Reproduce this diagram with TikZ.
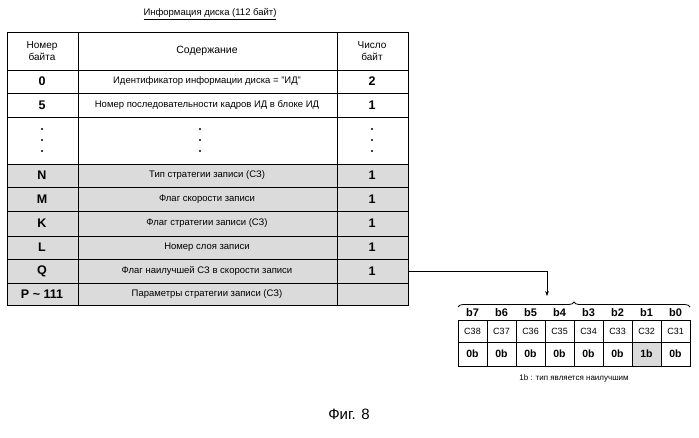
\documentclass[tikz,border=0pt]{standalone}
\usepackage{fontspec}
\setmainfont{Liberation Sans}
\usetikzlibrary{arrows.meta,decorations.pathreplacing}
\begin{document}
\begin{tikzpicture}[x=1pt,y=-1pt,
  txt/.style={font=\fontsize{9.5}{11}\selectfont,align=center},
  big/.style={font=\fontsize{12.5}{13}\selectfont\bfseries}]
\useasboundingbox (0,0) rectangle (699,437);
% shaded rows
\fill[gray!28] (7,164) rectangle (408,305);
\fill[gray!28] (632,342) rectangle (661,366);
% table grid
\draw[line width=1pt] (7,32) rectangle (408,305);
\foreach \y in {70,93,117,164,187,211,236,259,283} \draw[line width=1pt] (7,\y) -- (408,\y);
\draw[line width=1pt] (78,32) -- (78,305);
\draw[line width=1pt] (337,32) -- (337,305);
\node[font=\fontsize{9.5}{11}\selectfont,inner sep=1pt] (title) at (210,14) {\underline{Информация диска (112 байт)}};
\node[txt,font=\fontsize{10}{12}\selectfont] (h1) at (42,51) {Номер\\байта};
\node[txt,font=\fontsize{10.5}{12}\selectfont] (h2) at (207,51) {Содержание};
\node[txt,font=\fontsize{10}{12}\selectfont] (h3) at (372,51) {Число\\байт};
\foreach \y/\a/\b/\c/\n in {81.5/0/Идентификатор информации диска = "ИД"/2/r0,
  105/5/Номер последовательности кадров ИД в блоке ИД/1/r5,
  175.5/N/Тип стратегии записи (СЗ)/1/rN,
  199/M/Флаг скорости записи/1/rM,
  223.5/K/Флаг стратегии записи (СЗ)/1/rK,
  247.5/L/Номер слоя записи/1/rL,
  271/Q/Флаг наилучшей СЗ в скорости записи/1/rQ,
  294/P \textasciitilde{} 111/Параметры стратегии записи (СЗ)//rP} {
  \node[big] (\n a) at (42,\y) {\a};
  \node[txt] (\n b) at (207,\y) {\b};
  \node[big] (\n c) at (372,\y) {\c};
}
\foreach \x in {42,200,372}
  \foreach \yy in {129,140,151} \fill (\x,\yy) circle (1.2pt);
% arrow
\coordinate (qr) at (408,271);
\coordinate (tgt) at (547,296);
\draw[line width=0.8pt,-{Stealth[length=5pt]}] (qr) -- (547,271) -- (tgt);
\draw[line width=0.8pt,decorate,decoration={brace,amplitude=5pt}] (458,307) -- (690,307);
% bit table
\foreach \i/\b/\c/\v in {0/b7/C38/0b,1/b6/C37/0b,2/b5/C36/0b,3/b4/C35/0b,4/b3/C34/0b,5/b2/C33/0b,6/b1/C32/1b,7/b0/C31/0b} {
  \pgfmathsetmacro\xx{458+29*\i+14.5}
  \node[font=\fontsize{11}{12}\selectfont\bfseries] (b\i) at (\xx,313) {\b};
  \node[font=\fontsize{9}{10}\selectfont] (c\i) at (\xx,331) {\c};
  \node[font=\fontsize{10.5}{11}\selectfont\bfseries] (v\i) at (\xx,354) {\v};
}
\draw[line width=0.9pt] (458,320) rectangle (690,366);
\draw[line width=0.9pt] (458,342) -- (690,342);
\foreach \i in {1,...,7} \draw[line width=0.9pt] (458+29*\i,320) -- (458+29*\i,366);
\node[font=\fontsize{8}{9}\selectfont] (cap) at (574,378) {1b : тип является наилучшим};
\node[font=\fontsize{15}{16}\selectfont] (fig) at (349,414) {Фиг. 8};
\end{tikzpicture}
\end{document}
